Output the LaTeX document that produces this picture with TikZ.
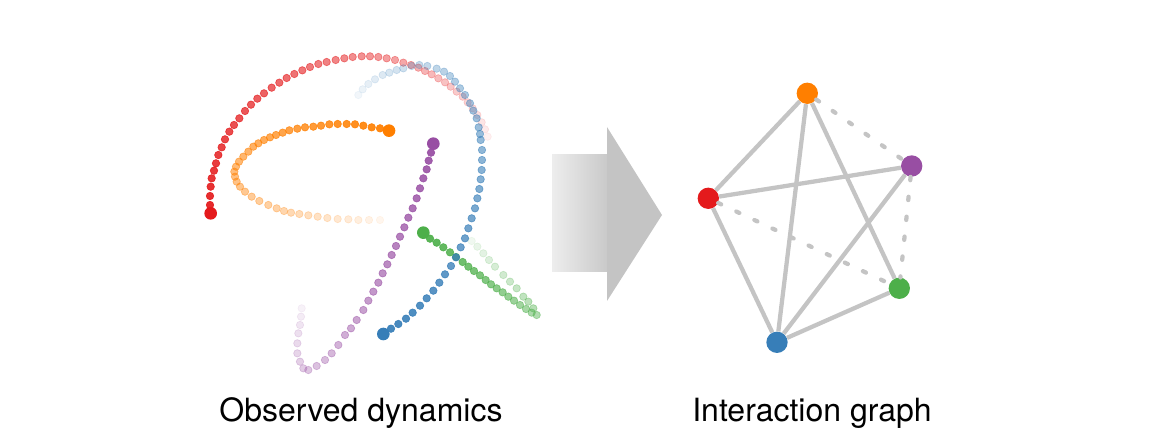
\documentclass[tikz,border=0pt]{standalone}
\usepackage{fontspec}
\setmainfont{TeX Gyre Heros}

\definecolor{setred}{HTML}{E41A1C}
\definecolor{setblue}{HTML}{377EB8}
\definecolor{setgreen}{HTML}{4DAF4A}
\definecolor{setpurple}{HTML}{984EA3}
\definecolor{setorange}{HTML}{FF7F00}
\definecolor{edgegray}{HTML}{C4C4C4}

% #1 colour, #2 number of dots, #3 dots from faint to strong
\newcommand\dottrail[3]{%
  \foreach \px/\py [count=\i] in {#3} {%
    \pgfmathsetmacro\op{0.03+0.9*(\i/#2)^0.85}
    \filldraw[#1, opacity=\op, line width=0.5pt] (\px,\py) circle (2.8pt);
  }}

\tikzset{
  tip/.style={circle, fill=#1, inner sep=0pt, minimum size=9.5pt},
  vertex/.style={circle, fill=#1, inner sep=0pt, minimum size=16pt},
  link/.style={draw=edgegray, line width=3.2pt},
  weak/.style={link, dash pattern=on 2.5pt off 12.5pt, line cap=round},
  caption/.style={anchor=base, font=\fontsize{24}{28}\selectfont}
}

\begin{document}
\begin{tikzpicture}[x=0.75pt, y=-0.75pt]
  \useasboundingbox (0,0) rectangle (1160,448);

  % observed dynamics
  \begin{scope}[shift={(190,40)}, x=0.25pt, y=-0.25pt]
    \dottrail{setred}{48}{893/290, 885/268, 875/247, 862/225, 848/205, 833/187,
      818/170, 800/155, 782/140, 765/127, 745/115, 725/103, 705/93, 685/83, 663/75,
      640/68, 615/60, 590/55, 565/51, 540/49, 515/49, 488/51, 463/55, 437/60, 410/66,
      385/72, 360/81, 337/91, 313/102, 290/114, 268/128, 245/143, 222/160, 202/176,
      183/194, 165/213, 148/235, 132/255, 118/275, 105/298, 95/322, 85/345, 78/370,
      72/392, 65/415, 62/440, 60/468, 60/495}
    \dottrail{setorange}{42}{570/540, 537/540, 505/540, 475/538, 443/537, 412/534,
      383/530, 355/526, 328/522, 303/518, 282/513, 260/505, 235/495, 208/483, 185/470,
      165/455, 150/440, 140/425, 135/410, 133/395, 138/380, 147/365, 160/350, 175/335,
      190/320, 205/310, 222/300, 240/292, 258/285, 278/278, 298/271, 322/266, 345/262,
      370/260, 393/257, 418/253, 443/252, 470/252, 495/253, 520/257, 545/262, 570/265}
    \dottrail{setpurple}{34}{335/805, 333/830, 330/855, 325/880, 322/910, 322/940,
      330/965, 340/985, 355/990, 380/978, 405/960, 425/940, 445/915, 465/885, 483/865,
      500/840, 520/810, 535/782, 550/755, 565/728, 578/700, 592/673, 605/645, 618/618,
      630/590, 643/562, 655/533, 668/505, 680/475, 690/445, 700/415, 710/388, 716/362,
      723/338}
    \dottrail{setgreen}{30}{845/603, 862/620, 880/640, 897/660, 915/680, 940/705,
      960/725, 980/745, 1000/770, 1015/785, 1030/805, 1040/825, 1025/818, 1008/807,
      990/795, 972/782, 955/770, 938/757, 920/745, 903/733, 887/720, 870/706, 852/693,
      835/680, 818/666, 798/651, 780/637, 760/622, 740/608, 720/596}
    \dottrail{setblue}{45}{505/165, 518/148, 535/132, 555/118, 578/105, 598/98,
      620/90, 640/85, 665/78, 688/75, 712/78, 740/86, 762/95, 780/108, 795/125,
      810/145, 825/165, 840/190, 850/212, 860/235, 866/262, 870/282, 872/300, 876/330,
      876/360, 875/390, 872/418, 868/447, 862/475, 855/505, 845/535, 835/565, 825/595,
      812/622, 798/652, 783/678, 765/703, 748/728, 730/752, 710/775, 690/797, 668/818,
      648/836, 625/852, 603/866}

    \node[tip=setred] (redEnd) at (62,520) {};
    \node[tip=setorange] (orangeEnd) at (597,272) {};
    \node[tip=setpurple] (purpleEnd) at (730,311) {};
    \node[tip=setgreen] (greenEnd) at (700,578) {};
    \node[tip=setblue] (blueEnd) at (580,882) {};
  \end{scope}

  % arrow
  \shade[left color=gray!14, right color=gray!42] (552,155) rectangle (607,272);
  \fill[edgegray] (607,127) -- (662,215) -- (607,301) -- cycle;

  % interaction graph
  \node[vertex=setorange] (og) at (807.3,93.3) {};
  \node[vertex=setpurple] (pu) at (911.7,166) {};
  \node[vertex=setred] (rd) at (708.3,198.3) {};
  \node[vertex=setgreen] (gn) at (899.3,288.3) {};
  \node[vertex=setblue] (bl) at (777,342.3) {};

  \draw[link] (og) -- (rd);
  \draw[link] (og) -- (bl);
  \draw[link] (og) -- (gn);
  \draw[link] (rd) -- (pu);
  \draw[link] (rd) -- (bl);
  \draw[link] (pu) -- (bl);
  \draw[link] (bl) -- (gn);
  \draw[weak] (og) -- (pu);
  \draw[weak] (rd) -- (gn);
  \draw[weak] (pu) -- (gn);

  \node[caption] (obs) at (361,421.7) {Observed dynamics};
  \node[caption] (inter) at (812,421.7) {Interaction graph};
\end{tikzpicture}
\end{document}
